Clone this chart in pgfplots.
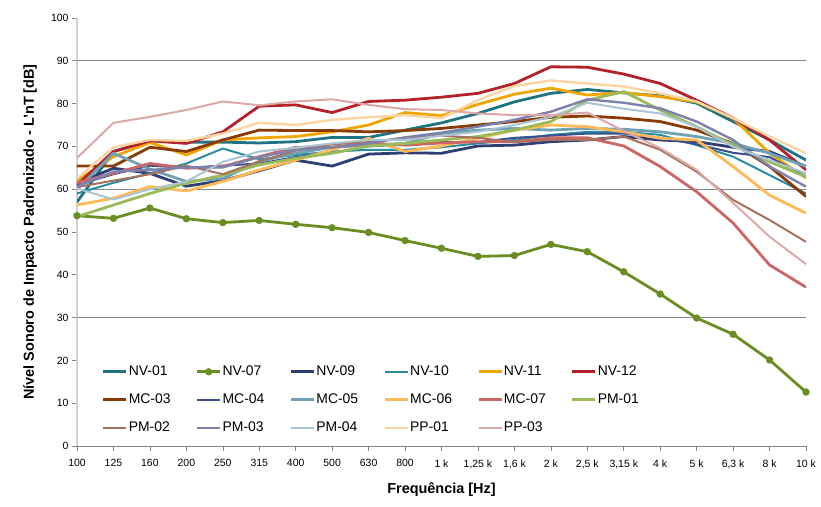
\documentclass[border=0pt]{standalone}
\usepackage{fontspec}
\setmainfont{Liberation Sans}
\usepackage{pgfplots}
\usepackage{pgfplotstable}
\pgfplotsset{compat=1.18}

\definecolor{nv01}{HTML}{1F7382}
\definecolor{nv07}{HTML}{6B8E23}
\definecolor{nv09}{HTML}{2F3E75}
\definecolor{nv10}{HTML}{2A8CA3}
\definecolor{nv11}{HTML}{F0A500}
\definecolor{nv12}{HTML}{B5212A}
\definecolor{mc03}{HTML}{8B3A06}
\definecolor{mc04}{HTML}{3C4F8F}
\definecolor{mc05}{HTML}{6EA2B4}
\definecolor{mc06}{HTML}{FFB957}
\definecolor{mc07}{HTML}{CC6666}
\definecolor{pm01}{HTML}{9BBB59}
\definecolor{pm02}{HTML}{A8705F}
\definecolor{pm03}{HTML}{7D82AC}
\definecolor{pm04}{HTML}{A9C5D1}
\definecolor{pp01}{HTML}{FCD5A3}
\definecolor{pp03}{HTML}{DDA8A8}
\definecolor{gridgray}{HTML}{868686}

% L'nT per third-octave band (0 = 100 Hz ... 20 = 10 kHz)
\pgfplotstableread{
x  NV01 NV07 NV09 NV10 NV11 NV12 MC03 MC04 MC05 MC06 MC07 PM01 PM02 PM03 PM04 PP01 PP03
0  57   53.8 61.4 59   62   61   65.4 61   60   56.3 61.5 53.6 60.5 60.6 60.2 62.5 67.3
1  68.8 53.2 64.9 61.5 67.6 68.8 65.4 63.5 68.4 57.9 63.7 56.3 62   64.1 57.6 69.8 75.5
2  71.3 55.6 63.7 63.7 70.9 71.3 69.8 65.5 64.7 60.6 66   59   63.5 64.5 60   71.5 76.9
3  71   53.1 60.7 66   68   70.7 68.8 65   61.8 59.6 64.9 61.4 65.5 65.1 61.8 71.3 78.5
4  71   52.2 62   69.5 71.5 73.4 71.5 65.5 62.5 61.8 65.3 63.3 63.5 65.1 66.4 73   80.5
5  70.8 52.7 64.3 67   72   79.4 73.8 66   66.5 64.5 67.6 65.7 66.5 67.5 68.8 75.5 79.6
6  71.1 51.8 66.8 68   72.3 79.7 73.7 67.5 68.4 66.8 69.8 67.2 69   69.2 69.7 75   80.5
7  72.1 51.0 65.4 68.8 73.4 77.9 73.7 68.5 69.8 69.2 69.8 68.4 70.5 69.8 70.7 76.2 81
8  72.1 49.9 68.2 69.2 75   80.5 73.4 70   70.3 71.9 70.7 70.1 71   70.7 71.5 76.8 79.7
9  73.8 48.0 68.5 69.2 77.9 80.8 73.7 70.5 70.7 68.8 70.3 70.7 72   72.1 71.5 77.3 78.7
10 75.5 46.2 68.4 69.8 77.2 81.5 74.2 71   73   70.1 70.8 71.5 72.5 73.2 72.5 76.6 78.5
11 77.7 44.3 70.1 70.7 79.8 82.4 75   71   73.8 71.9 71.1 72.3 72   74.6 73.4 80.8 77.7
12 80.4 44.5 70.3 71.5 82.2 84.7 75.8 72   74.2 73.8 71.1 73.8 71   76.2 75   84.1 77.3
13 82.4 47.1 71.1 72.7 83.6 88.6 76.8 72.5 73.8 75   72   75.8 71.5 78.1 76.9 85.4 77.3
14 83.3 45.4 71.5 73.4 82   88.5 77.1 73   74.2 74.6 72   80.8 71.5 81   80.2 84.7 77.9
15 82.5 40.7 72.3 73.4 82.6 86.9 76.6 73   74   73.4 70.1 82.8 72.3 80.2 78.8 84   73.6
16 81.8 35.5 71.5 72.7 81.6 84.7 75.8 72   73.4 71.9 65.3 78.5 69.2 78.9 77.7 82.4 69.6
17 80.1 29.9 71.1 70.3 80.4 80.8 73.8 70.5 72.3 71.5 59.4 74.6 64.1 75.8 74.6 80.5 64.5
18 75.8 26.1 69.8 67.6 76.6 76.6 70.7 68.5 70.7 65.3 52.1 70.3 57.5 71.5 69.9 76.6 56.8
19 71.5 20.1 68.8 63.3 68.4 71.5 65.3 67.5 68.4 58.6 42.3 66.4 52.8 65.3 66.8 72.3 48.9
20 66.8 12.6 65.3 59.0 62.6 64.5 58.3 63   65.3 54.4 37.1 62.9 47.7 60.6 63.7 68.4 42.5
}\dataLnT

\newcommand{\leg}[1]{\makebox[66bp][l]{#1}}

\begin{document}
\begin{tikzpicture}
\begin{axis}[
    name=ax,
    scale only axis,
    width=729bp, height=428bp,
    xmin=0, xmax=20, ymin=0, ymax=100,
    xtick={0,...,20},
    xticklabels={100,125,160,200,250,315,400,500,630,800,1 k,{1,25 k},{1,6 k},2 k,{2,5 k},{3,15 k},4 k,5 k,{6,3 k},8 k,10 k},
    ytick={0,10,...,100},
    extra y ticks={30,60,90},
    extra y tick labels={},
    extra y tick style={grid=major, major tick length=0pt},
    major grid style={gridgray, line width=0.8bp},
    axis lines*=left,
    x axis line style={gridgray, line width=0.8bp},
    y axis line style={gray!35, line width=1.5bp},
    tick align=outside,
    major tick length=5bp,
    tick style={gridgray, line width=0.6bp},
    tick label style={font=\fontsize{10.5}{12}\selectfont},
    xticklabel style={yshift=-5bp},
    /pgf/number format/assume math mode=true,
    xlabel={Frequência [Hz]},
    ylabel={Nível Sonoro de Impacto Padronizado - L'nT [dB]},
    label style={font=\fontsize{14.5}{16}\selectfont\bfseries},
    x label style={at={(axis description cs:0.5,-0.103)}, anchor=center},
    y label style={at={(axis description cs:-0.0645,0.50)}, anchor=center},
    legend columns=6,
    legend cell align=left,
    legend style={draw=none, fill=none, inner sep=0pt,
        at={(rel axis cs:0.034,0.189)}, anchor=north west,
        font=\fontsize{14}{15}\selectfont,
        nodes={inner xsep=1bp, inner ysep=0pt, text height=10bp, text depth=3bp},
        row sep=15bp},
    legend image code/.code={\draw[mark repeat=2, mark phase=2, #1]
        plot coordinates {(0bp,0bp) (11.5bp,0bp) (23bp,0bp)};},
    every axis plot/.append style={line join=round},
]
\addplot[nv01, line width=2.8bp] table[x=x, y=NV01] {\dataLnT};
\addlegendentry{\leg{NV-01}}
\addplot[nv07, line width=2.8bp, mark=*, mark size=3.4bp, mark options={fill=nv07, draw=nv07, line width=0.5bp}] table[x=x, y=NV07] {\dataLnT};
\addlegendentry{\leg{NV-07}}
\addplot[nv09, line width=2.8bp] table[x=x, y=NV09] {\dataLnT};
\addlegendentry{\leg{NV-09}}
\addplot[nv10, line width=2bp] table[x=x, y=NV10] {\dataLnT};
\addlegendentry{\leg{NV-10}}
\addplot[nv11, line width=2.8bp] table[x=x, y=NV11] {\dataLnT};
\addlegendentry{\leg{NV-11}}
\addplot[nv12, line width=2.8bp] table[x=x, y=NV12] {\dataLnT};
\addlegendentry{\leg{NV-12}}
\addplot[mc03, line width=2.8bp] table[x=x, y=MC03] {\dataLnT};
\addlegendentry{\leg{MC-03}}
\addplot[mc04, line width=2bp] table[x=x, y=MC04] {\dataLnT};
\addlegendentry{\leg{MC-04}}
\addplot[mc05, line width=2.8bp] table[x=x, y=MC05] {\dataLnT};
\addlegendentry{\leg{MC-05}}
\addplot[mc06, line width=2.8bp] table[x=x, y=MC06] {\dataLnT};
\addlegendentry{\leg{MC-06}}
\addplot[mc07, line width=2.8bp] table[x=x, y=MC07] {\dataLnT};
\addlegendentry{\leg{MC-07}}
\addplot[pm01, line width=2.8bp] table[x=x, y=PM01] {\dataLnT};
\addlegendentry{\leg{PM-01}}
\addplot[pm02, line width=2bp] table[x=x, y=PM02] {\dataLnT};
\addlegendentry{\leg{PM-02}}
\addplot[pm03, line width=2.4bp] table[x=x, y=PM03] {\dataLnT};
\addlegendentry{\leg{PM-03}}
\addplot[pm04, line width=2bp] table[x=x, y=PM04] {\dataLnT};
\addlegendentry{\leg{PM-04}}
\addplot[pp01, line width=2.4bp] table[x=x, y=PP01] {\dataLnT};
\addlegendentry{\leg{PP-01}}
\addplot[pp03, line width=2bp] table[x=x, y=PP03] {\dataLnT};
\addlegendentry{\leg{PP-03}}
\end{axis}
\pgfresetboundingbox
\path ([xshift=-77bp,yshift=-61bp]ax.south west) rectangle ([xshift=15bp,yshift=18bp]ax.north east);
\end{tikzpicture}
\end{document}
